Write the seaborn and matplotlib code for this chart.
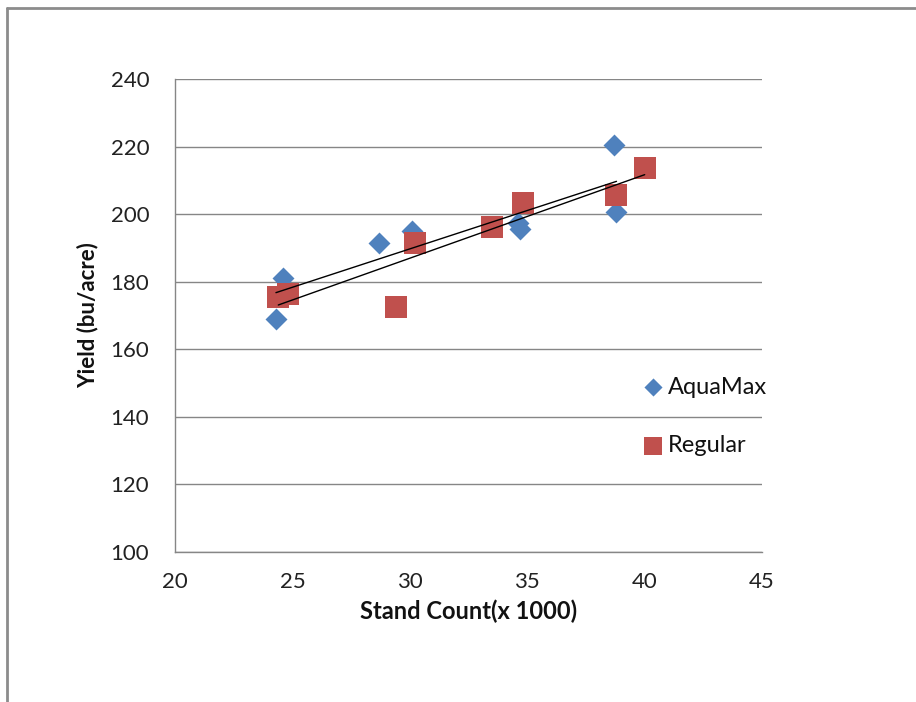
import matplotlib
matplotlib.use("Agg")
import matplotlib.pyplot as plt
from matplotlib.lines import Line2D
import seaborn as sns
import pandas as pd

# Yield vs. stand count for the two hybrids
aquamax_stand = [24.3, 24.6, 28.7, 30.1, 34.6, 34.7, 38.7, 38.8]
aquamax_yield = [169.0, 181.0, 191.5, 195.0, 197.4, 195.6, 220.5, 200.6]
regular_stand = [24.4, 24.8, 29.4, 30.2, 33.5, 34.8, 38.8, 40.0]
regular_yield = [175.5, 176.5, 172.5, 191.5, 196.2, 203.3, 205.7, 213.7]

series_names = ["AquaMax", "Regular"]
series_colors = {"AquaMax": "#4F81BD", "Regular": "#C0504D"}
series_markers = {"AquaMax": "D", "Regular": "s"}
series_sizes = {"AquaMax": 125, "Regular": 240}
legend_sizes = {"AquaMax": 85, "Regular": 165}

x_ticks = [20, 25, 30, 35, 40, 45]
y_ticks = [100, 120, 140, 160, 180, 200, 220, 240]

df = pd.concat([
    pd.DataFrame({"stand": aquamax_stand, "yield": aquamax_yield, "series": "AquaMax"}),
    pd.DataFrame({"stand": regular_stand, "yield": regular_yield, "series": "Regular"}),
], ignore_index=True)

sns.set_style("white")
plt.rcParams["font.family"] = ["Lato", "DejaVu Sans"]

fig = plt.figure(figsize=(9.16, 7.02), dpi=100)
ax = fig.add_axes([0.191, 0.2137, 0.641, 0.6738])

for name in series_names:
    sub = df[df["series"] == name]
    sns.scatterplot(data=sub, x="stand", y="yield", ax=ax,
                    color=series_colors[name], marker=series_markers[name],
                    s=series_sizes[name], linewidth=0, label=name, zorder=3)

# Linear trendlines for each series
for name in series_names:
    sub = df[df["series"] == name]
    sns.regplot(data=sub, x="stand", y="yield", ax=ax, scatter=False,
                ci=None, truncate=True,
                line_kws={"color": "black", "lw": 1.0, "zorder": 4})

ax.set_xlim(20, 45)
ax.set_ylim(100, 240)
ax.set_xticks(x_ticks)
ax.set_yticks(y_ticks)
ax.set_xticklabels([str(t) for t in x_ticks])
ax.set_yticklabels([str(t) for t in y_ticks])

ax.grid(axis="y", color="#868686", lw=1.0)
ax.grid(axis="x", visible=False)
ax.set_axisbelow(True)
for side in ["top", "right"]:
    ax.spines[side].set_visible(False)
for side in ["left", "bottom"]:
    ax.spines[side].set_color("#868686")
    ax.spines[side].set_linewidth(1.0)

ax.tick_params(axis="both", direction="out", length=6.5, width=1.0,
               color="#868686", labelsize=16, labelcolor="#222222")
ax.tick_params(axis="x", pad=8)
ax.tick_params(axis="y", pad=12)

ax.set_xlabel("Stand Count(x 1000)", fontsize=17, fontweight="bold",
              color="#111111", labelpad=5)
ax.set_ylabel("Yield (bu/acre)", fontsize=16, fontweight="bold",
              color="#111111", labelpad=9)

handles, labels = ax.get_legend_handles_labels()
leg = ax.legend(handles, labels, loc="center left", bbox_to_anchor=(0.679, 0.4067),
                bbox_transform=fig.transFigure, frameon=False, fontsize=17,
                labelspacing=1.6, handletextpad=0.25, handlelength=0.8,
                labelcolor="#111111")
for handle, name in zip(leg.legend_handles, labels):
    handle.set_sizes([legend_sizes[name]])

# Outer chart border (top and left edges)
fig.add_artist(Line2D([0.0075, 1.0], [0.9885, 0.9885], transform=fig.transFigure,
                      color="#8c8c8c", lw=2.0))
fig.add_artist(Line2D([0.0075, 0.0075], [0.0, 0.9885], transform=fig.transFigure,
                      color="#8c8c8c", lw=2.0))

fig.savefig("out.png", dpi=100, facecolor="white")
